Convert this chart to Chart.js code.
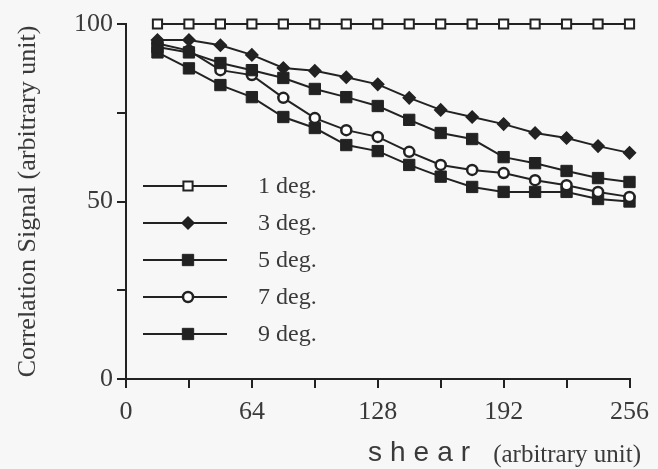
<!DOCTYPE html>
<html>
<head>
<meta charset="utf-8">
<script src="https://cdn.jsdelivr.net/npm/chart.js@4/dist/chart.umd.min.js"></script>
<style>
    html, body { margin: 0; padding: 0; background: #f7f7f8; }
    #wrap { width: 658px; height: 469px; }
</style>
</head>
<body>
<div id="wrap"><canvas id="chart" width="658" height="469"></canvas></div>
<script>
// Correlation signal vs shear, one line per angle

const shear = [16, 32, 48, 64, 80, 96, 112, 128, 144, 160, 176, 192, 208, 224, 240, 256];
const deg1 = [100, 100, 100, 100, 100, 100, 100, 100, 100, 100, 100, 100, 100, 100, 100, 100];
const deg3 = [95.5, 95.5, 94, 91.3, 87.6, 86.8, 85, 83, 79.2, 75.8, 73.8, 71.8, 69.3, 67.9, 65.6, 63.7];
const deg5 = [93.5, 92, 89, 87, 84.8, 81.7, 79.4, 76.9, 73, 69.3, 67.6, 62.5, 60.8, 58.6, 56.6, 55.5];
const deg7 = [94.5, 92.5, 87, 85.6, 79.2, 73.5, 70.1, 68.2, 64, 60.3, 58.9, 58, 56, 54.6, 52.7, 51.3];
const deg9 = [92, 87.5, 82.8, 79.4, 73.8, 70.7, 65.9, 64.2, 60.3, 57, 54.1, 52.7, 52.7, 52.7, 50.7, 50];

const seriesLabels = ['1 deg.', '3 deg.', '5 deg.', '7 deg.', '9 deg.'];
const yTicksShown = [0, 50, 100];
const xTicksShown = [0, 64, 128, 192, 256];

const INK = '#222';
const TEXT = '#3a3a3a';
const SERIF = '"Liberation Serif", "Times New Roman", serif';

// marker look per series
const markers = [
    { style: 'rect', radius: 6.5, fill: '#fff', border: 2 },
    { style: 'rectRot', radius: 6, fill: INK, border: 1.5 },
    { style: 'rect', radius: 8, fill: INK, border: 1 },
    { style: 'circle', radius: 5, fill: '#fff', border: 2.5 },
    { style: 'rect', radius: 8, fill: INK, border: 1 }
];

function makeDataset(values, i) {
    const m = markers[i];
    return {
        label: seriesLabels[i],
        data: values.map((v, k) => ({ x: shear[k], y: v })),
        borderColor: INK,
        borderWidth: 2,
        tension: 0,
        clip: false,
        pointStyle: m.style,
        pointRadius: m.radius,
        pointBackgroundColor: m.fill,
        pointBorderColor: INK,
        pointBorderWidth: m.border
    };
}

const bgPlugin = {
    id: 'bg',
    beforeDraw(chart) {
        const ctx = chart.ctx;
        ctx.save();
        ctx.fillStyle = '#f7f7f8';
        ctx.fillRect(0, 0, chart.width, chart.height);
        ctx.restore();
    }
};

// legend drawn inside the plot, line with marker in the middle
const innerLegend = {
    id: 'innerLegend',
    afterDatasetsDraw(chart) {
        const ctx = chart.ctx;
        const area = chart.chartArea;
        ctx.save();
        chart.data.datasets.forEach((ds, i) => {
            const y = area.top + 162 + i * 37;
            const x0 = area.left + 17;
            const x1 = area.left + 101;
            ctx.strokeStyle = INK;
            ctx.lineWidth = 2;
            ctx.beginPath();
            ctx.moveTo(x0, y);
            ctx.lineTo(x1, y);
            ctx.stroke();
            ctx.fillStyle = ds.pointBackgroundColor;
            ctx.strokeStyle = INK;
            ctx.lineWidth = ds.pointBorderWidth;
            Chart.helpers.drawPoint(ctx, {
                pointStyle: ds.pointStyle,
                radius: ds.pointRadius,
                borderWidth: ds.pointBorderWidth
            }, x0 + 45, y);
            ctx.fillStyle = TEXT;
            ctx.font = '24px ' + SERIF;
            ctx.textBaseline = 'middle';
            ctx.fillText(ds.label, area.left + 132, y + 1);
        });
        ctx.restore();
    }
};

// x title mixes a spaced sans word with a smaller serif note
const xTitle = {
    id: 'xTitle',
    afterDraw(chart) {
        const ctx = chart.ctx;
        ctx.save();
        ctx.fillStyle = TEXT;
        ctx.textBaseline = 'alphabetic';
        ctx.font = '28px "Liberation Sans", Arial, sans-serif';
        ctx.letterSpacing = '8px';
        ctx.fillText('shear', 368, 461);
        ctx.letterSpacing = '0px';
        ctx.font = '25px ' + SERIF;
        ctx.textAlign = 'right';
        ctx.fillText('(arbitrary unit)', 641, 462);
        ctx.restore();
    }
};

new Chart(document.getElementById('chart'), {
    type: 'line',
    data: {
        datasets: [deg1, deg3, deg5, deg7, deg9].map(makeDataset)
    },
    options: {
        responsive: false,
        animation: false,
        layout: { padding: { top: 24, right: 24, left: 0, bottom: 0 } },
        plugins: {
            legend: { display: false },
            tooltip: { enabled: false }
        },
        scales: {
            x: {
                type: 'linear',
                min: 0,
                max: 256,
                afterFit: (scale) => { scale.height = 90; },
                ticks: {
                    stepSize: 32,
                    autoSkip: false,
                    maxRotation: 0,
                    padding: 9,
                    color: TEXT,
                    font: { family: SERIF, size: 26 },
                    callback: (v) => xTicksShown.includes(v) ? String(v) : ''
                },
                grid: { drawOnChartArea: false, tickLength: 9, color: INK, lineWidth: 2 },
                border: { color: INK, width: 2 }
            },
            y: {
                min: 0,
                max: 100,
                afterFit: (scale) => { scale.width = 126; },
                ticks: {
                    stepSize: 25,
                    autoSkip: false,
                    padding: 4,
                    color: TEXT,
                    font: { family: SERIF, size: 26 },
                    callback: (v) => yTicksShown.includes(v) ? String(v) : ''
                },
                grid: { drawOnChartArea: false, tickLength: 9, color: INK, lineWidth: 2 },
                border: { color: INK, width: 2 },
                title: {
                    display: true,
                    text: 'Correlation Signal (arbitrary unit)',
                    color: TEXT,
                    font: { family: SERIF, size: 26 },
                    padding: { top: 13, bottom: 0 }
                }
            }
        }
    },
    plugins: [bgPlugin, innerLegend, xTitle]
});
</script>
</body>
</html>
